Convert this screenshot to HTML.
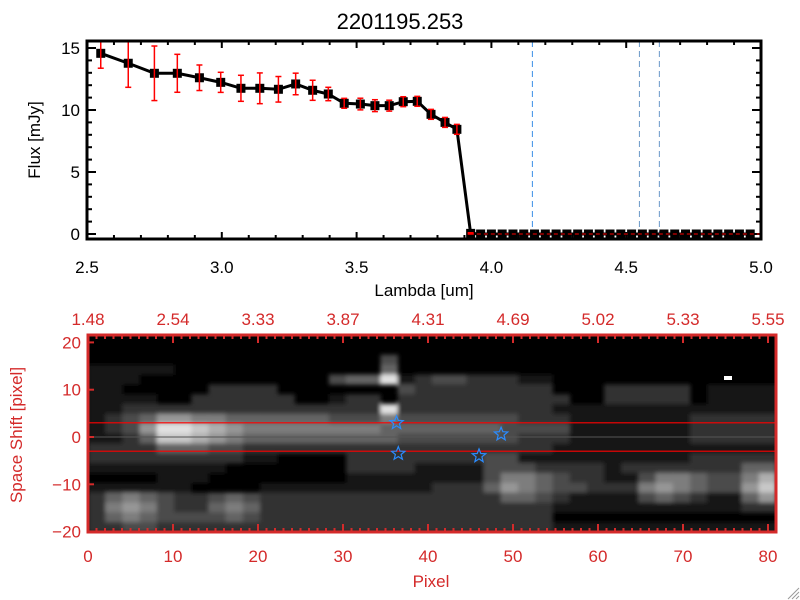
<!DOCTYPE html>
<html><head><meta charset="utf-8">
<style>
html,body{margin:0;padding:0;background:#fff;}
svg{display:block;font-family:"Liberation Sans",sans-serif;}
</style></head>
<body>
<svg id="chart" width="800" height="600" viewBox="0 0 800 600" xmlns="http://www.w3.org/2000/svg">
<defs>
<clipPath id="imgClip"><rect x="88" y="335" width="688" height="197"/></clipPath>
<filter id="soft" x="-5%" y="-5%" width="110%" height="110%"><feGaussianBlur stdDeviation="2.2"/></filter>
</defs>
<rect x="0" y="0" width="800" height="600" fill="#fff"/>
<text x="400" y="29" text-anchor="middle" font-size="22" fill="#000">2201195.253</text>
<g id="topPanel"></g>
<g id="botPanel"></g>
<g stroke="#999" stroke-width="1">
<line x1="788" y1="599" x2="799" y2="588"/><line x1="792" y1="599" x2="799" y2="592"/><line x1="796" y1="599" x2="799" y2="596"/>
</g>
</svg>
<script>
// ---- spectrum data ----
const lambdas = [2.551,2.653,2.750,2.835,2.917,2.996,3.071,3.141,3.210,3.274,3.337,3.395,3.454,3.514,3.568,3.621,3.673,3.725,3.776,3.828,3.872,3.923];
const fluxes = [14.57,13.77,12.96,12.96,12.6,12.23,11.75,11.75,11.67,12.1,11.59,11.29,10.54,10.48,10.35,10.35,10.67,10.7,9.65,9.0,8.44,0.05];
const errors = [1.2,1.94,2.2,1.53,1.03,0.81,1.05,1.24,1.03,0.87,0.81,0.54,0.4,0.47,0.48,0.44,0.4,0.4,0.4,0.4,0.4,0.05];
const zeroLambdas = [3.96,4.0,4.04,4.08,4.12,4.16,4.2,4.24,4.28,4.32,4.36,4.4,4.44,4.48,4.52,4.56,4.6,4.64,4.68,4.72,4.76,4.8,4.84,4.88,4.92,4.96];
const lineMarkers = [4.152,4.549,4.623];
const xTickLabels = ["2.5","3.0","3.5","4.0","4.5","5.0"];
const yTickLabels = ["0","5","10","15"];
// ---- image data ----
const pixelTicks = ["0","10","20","30","40","50","60","70","80"];
const topWaveLabels = ["1.48","2.54","3.33","3.87","4.31","4.69","5.02","5.33","5.55"];
const shiftTicks = ["-20","-10","0","10","20"];
const apertureShifts = [3,-3];
const starPixels = [36.3,36.5,48.6,46.0];
const starShifts = [3.0,-3.5,0.6,-4.0];
const imageRows = [
"0000000000000000000000000000000000000000",
"0000000000000000000000000000000000000000",
"0000000000000000030000000000000000000000",
"1111100000000000040000000000000000000000",
"111"+"00000000000"+"3449"+"12332221"+"1"+"0000000000000",
"11"+"00000"+"2222"+"000000"+"0"+"3"+"22222222"+"000"+"22222"+"0"+"1111",
"1111"+"00"+"222222"+"00"+"122"+"0"+"2"+"222222222"+"00"+"22222"+"0"+"1111",
"11"+"222222222222222"+"9"+"2"+"22222222"+"111"+"11111"+"11111",
"123466554"+"44444"+"333"+"5"+"3333333"+"222"+"1111111"+"22222",
"123699876"+"5"+"5555555"+"4"+"444444"+"3333"+"1111111"+"22222",
"112488765"+"44444444"+"4"+"3333333"+"222"+"1111111"+"22222",
"2222444332222222222222222221111111111111",
"222222222"+"11"+"0000"+"222"+"22222"+"33"+"11111"+"11111"+"22222",
"11111111"+"0000000"+"2222"+"1111"+"333"+"2222"+"1"+"2222"+"222"+"44",
"0000"+"111"+"00000000"+"1111"+"1111"+"3"+"5543"+"22"+"11"+"3554"+"33"+"57",
"111111"+"0000"+"11111"+"11111"+"222"+"46543"+"32"+"22"+"5654"+"33"+"68",
"2454322343"+"2"+"222222222222"+"2"+"4432"+"1111"+"3432"+"11"+"46",
"2565322454"+"2"+"222222222222"+"2222"+"11111111111"+"22",
"2454333343"+"22222222222222222"+"0000000000000",
"2233222222"+"22222222222222222"+"1111111111111"
];

const NS="http://www.w3.org/2000/svg";
function mk(parent,tag,attrs){const e=document.createElementNS(NS,tag);for(const k in attrs)e.setAttribute(k,attrs[k]);parent.appendChild(e);return e;}

// ===== top panel =====
const topG=document.getElementById('topPanel');
const L=87,R=761,T=41,B=239;
const xs=v=>L+(v-2.5)/2.5*(R-L);
const ys=v=>234-v*12.4;
for(let i=0;i<=25;i++){const v=2.5+i*0.1;const x=xs(v);const len=(i%5===0)?7:4;
 let t=mk(topG,'line',{x1:x,y1:B,x2:x,y2:B-len,stroke:'#000','stroke-width':2});
 
 
 t=mk(topG,'line',{x1:x,y1:T,x2:x,y2:T+len,stroke:'#000','stroke-width':2});
 
 }
for(let v=0;v<=15;v++){const y=ys(v);const len=(v%5===0)?9:5;
 let t=mk(topG,'line',{x1:L,y1:y,x2:L+len,y2:y,stroke:'#000','stroke-width':2});
 
 
 t=mk(topG,'line',{x1:R,y1:y,x2:R-len,y2:y,stroke:'#000','stroke-width':2});
 
 }
xTickLabels.forEach(s=>{const t=mk(topG,'text',{x:xs(parseFloat(s)),y:273,'text-anchor':'middle','font-size':17,fill:'#000'});t.textContent=s;
 
 });
yTickLabels.forEach(s=>{const t=mk(topG,'text',{x:80,y:ys(parseFloat(s))+6,'text-anchor':'end','font-size':17,fill:'#000'});t.textContent=s;
 
 });
let xt=mk(topG,'text',{x:424,y:296,'text-anchor':'middle','font-size':17,fill:'#000'});xt.textContent='Lambda [um]';


let yt=mk(topG,'text',{x:0,y:0,'text-anchor':'middle','font-size':17,fill:'#000',transform:'translate(40,140) rotate(-90)'});yt.textContent='Flux [mJy]';


lineMarkers.forEach((v,i)=>{const l=mk(topG,'line',{x1:xs(v),y1:T,x2:xs(v),y2:B,stroke:i===0?'#3a8ee6':'#6a98c8','stroke-width':1,'stroke-dasharray':'6,4'});
 
 });
const allL=lambdas.concat(zeroLambdas), allF=fluxes.concat(zeroLambdas.map(()=>0));
const pl=mk(topG,'polyline',{points:allL.map((v,i)=>xs(v)+','+ys(allF[i])).join(' '),fill:'none',stroke:'#000','stroke-width':3});


allL.forEach((v,i)=>{const s=mk(topG,'rect',{x:xs(v)-4.5,y:ys(allF[i])-4.5,width:9,height:9,fill:'#000'});
 
 });
lambdas.forEach((v,i)=>{const x=xs(v);const y1=Math.max(T,ys(fluxes[i]+errors[i])),y2=ys(fluxes[i]-errors[i]);
 const g=mk(topG,'g',{stroke:'#f00','stroke-width':1.5});
 
 
 mk(g,'line',{x1:x,y1:y1,x2:x,y2:y2});mk(g,'line',{x1:x-3,y1:y1,x2:x+3,y2:y1});mk(g,'line',{x1:x-3,y1:y2,x2:x+3,y2:y2});});
const zl=mk(topG,'line',{x1:xs(3.92),y1:ys(0),x2:R,y2:ys(0),stroke:'#f00','stroke-width':1,'stroke-dasharray':'4,3'});


const fr=mk(topG,'rect',{x:L,y:T,width:R-L,height:B-T,fill:'none',stroke:'#000','stroke-width':3});



// ===== bottom panel =====
const botG=document.getElementById('botPanel');
const BL=88,BR=776,BT=335,BB=532,RED='#d42a2a';
const px=p=>BL+p*8.5;
const sy=s=>437-s*4.73;
mk(botG,'rect',{x:BL,y:BT,width:BR-BL,height:BB-BT,fill:'#000'});
const clipG=mk(botG,'g',{'clip-path':'url(#imgClip)'});
const img=mk(clipG,'g',{filter:'url(#soft)'});


const nr=imageRows.length,nc=imageRows[0].length,cw=(BR-BL)/nc,ch=(BB-BT)/nr;
imageRows.forEach((row,r)=>{for(let c=0;c<row.length;c++){const v=+row[c];if(!v)continue;const g=Math.min(230,v*25);
 const cell=mk(img,'rect',{x:BL+c*cw,y:BT+r*ch,width:cw+0.5,height:ch+0.5,fill:`rgb(${g},${g},${g})`});
 
 }});
const dot=mk(botG,'rect',{x:724,y:376,width:8,height:4,fill:'#fff'});


const cl=mk(botG,'line',{x1:BL,y1:sy(0),x2:BR,y2:sy(0),stroke:'#555','stroke-width':1});


apertureShifts.forEach(s=>{const l=mk(botG,'line',{x1:BL,y1:sy(s),x2:BR,y2:sy(s),stroke:'#f00','stroke-width':1.2});
 
 });
function starPts(cx,cy,ro,ri){let p=[];for(let k=0;k<10;k++){const a=-Math.PI/2+k*Math.PI/5;const r=k%2?ri:ro;p.push((cx+r*Math.cos(a)).toFixed(1)+','+(cy+r*Math.sin(a)).toFixed(1));}return p.join(' ');}
starPixels.forEach((p,i)=>{const st=mk(botG,'polygon',{points:starPts(px(p),sy(starShifts[i]),7,3),fill:'none',stroke:'#2a8cff','stroke-width':1.2});
 
 });
for(let p=0;p<=81;p++){const x=px(p);if(x>BR)break;const len=(p%10===0)?8:4;
 let t=mk(botG,'line',{x1:x,y1:BB,x2:x,y2:BB-len,stroke:RED,'stroke-width':2});
 
 
 t=mk(botG,'line',{x1:x,y1:BT,x2:x,y2:BT+len,stroke:RED,'stroke-width':2});
 
 }
shiftTicks.forEach(s=>{const t=mk(botG,'line',{x1:BL,y1:sy(+s),x2:BL+6,y2:sy(+s),stroke:RED,'stroke-width':2});
 
 
 const tl=mk(botG,'text',{x:81,y:sy(+s)+6,'text-anchor':'end','font-size':17,fill:RED});tl.textContent=s.replace('-','\u2212');
 
 });
pixelTicks.forEach(s=>{const t=mk(botG,'text',{x:px(+s),y:562,'text-anchor':'middle','font-size':17,fill:RED});t.textContent=s;
 
 });
topWaveLabels.forEach((s,i)=>{const t=mk(botG,'text',{x:px(i*10),y:325,'text-anchor':'middle','font-size':17,fill:RED});t.textContent=s;
 
 });
let bx=mk(botG,'text',{x:431,y:587,'text-anchor':'middle','font-size':17,fill:RED});bx.textContent='Pixel';


let by=mk(botG,'text',{x:0,y:0,'text-anchor':'middle','font-size':17,fill:RED,transform:'translate(22,435) rotate(-90)'});by.textContent='Space Shift [pixel]';


const bf=mk(botG,'rect',{x:BL,y:BT,width:BR-BL,height:BB-BT,fill:'none',stroke:RED,'stroke-width':3});


</script>
</body></html>
